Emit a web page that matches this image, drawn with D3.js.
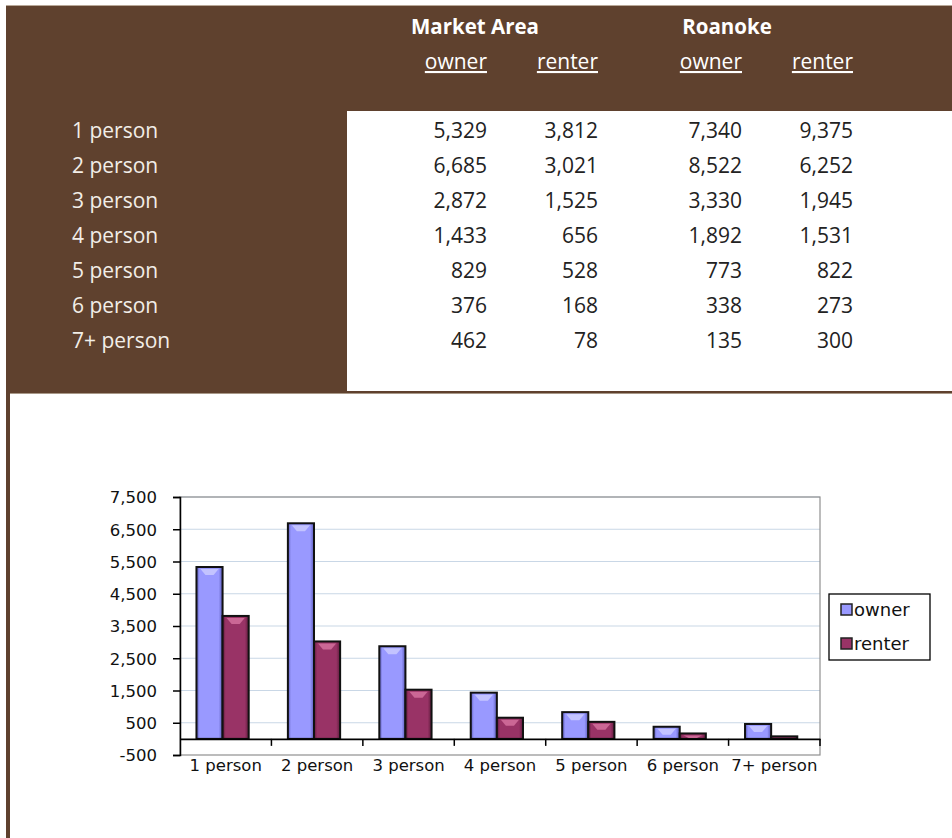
<!DOCTYPE html>
<html><head><meta charset="utf-8">
<script src="https://cdn.jsdelivr.net/npm/d3@7"></script>
<style>html,body{margin:0;padding:0;background:#fff;} svg{display:block;}</style>
</head><body>
<script>
// ---- data ----
const categories = ["1 person","2 person","3 person","4 person","5 person","6 person","7+ person"];
const series = ["owner","renter"];
const marketOwner  = [5329, 6685, 2872, 1433, 829, 376, 462];
const marketRenter = [3812, 3021, 1525, 656, 528, 168, 78];
const roanokeOwner  = [7340, 8522, 3330, 1892, 773, 338, 135];
const roanokeRenter = [9375, 6252, 1945, 1531, 822, 273, 300];
const groupHeaders = ["Market Area","Roanoke"];
const yTicks = [-500, 500, 1500, 2500, 3500, 4500, 5500, 6500, 7500];

const W = 952, H = 838;
const brown = "#5f412e";
const svg = d3.select("body").append("svg").attr("width", W).attr("height", H);
const loc = d3.formatLocale({decimal:".", thousands:",", grouping:[3], currency:["$",""], minus:"-"});
const fmt = loc.format(",");

// ---- table panel ----
svg.append("rect").attr("x",0).attr("y",0).attr("width",W).attr("height",H).attr("fill","#fff");
svg.append("rect").attr("x",6).attr("y",6).attr("width",W-6).attr("height",387).attr("fill",brown);
svg.append("line").attr("x1",6).attr("x2",W).attr("y1",5.5).attr("y2",5.5).attr("stroke","#b8a898").attr("stroke-width",1);
svg.append("rect").attr("x",6).attr("y",6).attr("width",4).attr("height",H-6).attr("fill",brown);
svg.append("rect").attr("x",347).attr("y",111).attr("width",W-347).attr("height",280).attr("fill","#fff");
svg.append("line").attr("x1",10).attr("x2",W).attr("y1",393.5).attr("y2",393.5).attr("stroke","#a89888").attr("stroke-width",1);

const tf = "'Open Sans', Lato, sans-serif";
const colRight = [487, 598, 742, 853];
const headCenters = [475, 727];
svg.selectAll("text.gh").data(groupHeaders).join("text").attr("class","gh")
  .attr("x",(d,i)=>headCenters[i]).attr("y",34).attr("text-anchor","middle")
  .attr("font-family",tf).attr("font-weight","bold").attr("font-size",20.5).attr("fill","#fff").text(d=>d);
const subHeads = ["owner","renter","owner","renter"];
svg.selectAll("text.sh").data(subHeads).join("text").attr("class","sh")
  .attr("x",(d,i)=>colRight[i]).attr("y",69).attr("text-anchor","end")
  .attr("font-family",tf).attr("font-size",21).attr("fill","#fff")
  .attr("text-decoration","underline").text(d=>d);

const rowY = i => 138 + i*35;
svg.selectAll("text.rl").data(categories).join("text").attr("class","rl")
  .attr("x",72).attr("y",(d,i)=>rowY(i)).attr("font-family",tf).attr("font-size",21)
  .attr("fill","#f2eee8").text(d=>d);
const cols = [marketOwner, marketRenter, roanokeOwner, roanokeRenter];
cols.forEach((col,ci)=>{
  svg.selectAll("text.c"+ci).data(col).join("text").attr("class","c"+ci)
    .attr("x",colRight[ci]).attr("y",(d,i)=>rowY(i)).attr("text-anchor","end")
    .attr("font-family",tf).attr("font-size",21).attr("fill","#222").text(d=>fmt(d));
});

// ---- chart ----
const cf = "'DejaVu Sans', Verdana, sans-serif";
const x0 = 180, x1 = 820, yTop = 497, yBot = 755;
const y = d3.scaleLinear().domain([-500, 7500]).range([yBot, yTop]);
const x = d3.scaleBand().domain(categories).range([x0, x1]).padding(0);
const xs = d3.scaleBand().domain(series).range([0, x.bandwidth()]).paddingInner(0).paddingOuter(0.75).align(0.42);
const color = {owner:"#9999ff", renter:"#993366"};
const dark = {owner:"#5a5ab8", renter:"#5e1c3c"};
const light = {owner:"#c8c8ff", renter:"#d06d9a"};

const defs = svg.append("defs");
series.forEach(s=>{
  const g = defs.append("linearGradient").attr("id","g_"+s).attr("x1","0").attr("x2","1").attr("y1","0").attr("y2","0");
  g.append("stop").attr("offset","0").attr("stop-color",dark[s]);
  g.append("stop").attr("offset","0.12").attr("stop-color",color[s]);
  g.append("stop").attr("offset","0.85").attr("stop-color",color[s]);
  g.append("stop").attr("offset","1").attr("stop-color",dark[s]);
});

// gridlines
svg.append("g").selectAll("line").data(yTicks.filter(t=>t>-500)).join("line")
  .attr("x1",x0).attr("x2",x1).attr("y1",d=>y(d)).attr("y2",d=>y(d))
  .attr("stroke","#c9d7e6").attr("stroke-width",1.2);
// plot border
svg.append("rect").attr("x",x0).attr("y",yTop).attr("width",x1-x0).attr("height",yBot-yTop)
  .attr("fill","none").attr("stroke","#909090").attr("stroke-width",1.2);

// bars
const rows = categories.map((c,i)=>({cat:c, owner:marketOwner[i], renter:marketRenter[i]}));
const bars = svg.append("g");
rows.forEach(r=>{
  series.forEach(s=>{
    const bx = x(r.cat)+xs(s), bw = xs.bandwidth();
    const top = y(r[s]), base = y(0);
    bars.append("rect").attr("x",bx).attr("y",top).attr("width",bw).attr("height",base-top)
      .attr("fill","url(#g_"+s+")").attr("stroke","#111").attr("stroke-width",2);
    const h = Math.min(6, (base-top)-3);
    if (h > 1) {
      bars.append("path")
        .attr("d",`M${bx+4},${top+2}L${bx+bw-4},${top+2}L${bx+bw-9},${top+2+h}L${bx+9},${top+2+h}Z`)
        .attr("fill",light[s]).attr("opacity",0.9);
    }
  });
});

// y axis
const yAxis = d3.axisLeft(y).tickValues(yTicks).tickSize(7).tickFormat(fmt);
const ya = svg.append("g").attr("transform",`translate(${x0},0)`).call(yAxis);
ya.select(".domain").attr("stroke","#000").attr("stroke-width",1.5);
ya.selectAll(".tick line").attr("stroke","#000").attr("stroke-width",1.5);
ya.selectAll(".tick text").attr("font-family",cf).attr("font-size",16.5).attr("fill","#111").attr("x",-23).attr("dy","0.36em");

// x axis at zero
const xAxis = d3.axisBottom(x).tickSize(0).tickSizeOuter(0);
const xa = svg.append("g").attr("transform",`translate(0,${y(0)})`).call(xAxis);
xa.select(".domain").attr("stroke","#000").attr("stroke-width",1.6);
xa.selectAll(".tick text").attr("font-family",cf).attr("font-size",16.5).attr("fill","#111")
  .attr("y", yBot - y(0) + 4).attr("dy","0.71em");
// category ticks at band boundaries
const bounds = categories.slice(1).map(c=>x(c)).concat([x1]);
xa.selectAll("line.bt").data(bounds).join("line").attr("class","bt")
  .attr("x1",d=>d).attr("x2",d=>d).attr("y1",0).attr("y2",7).attr("stroke","#000").attr("stroke-width",1.5);

// legend
const lg = svg.append("g").attr("transform","translate(829,594)");
lg.append("rect").attr("width",101).attr("height",66).attr("fill","#fff").attr("stroke","#000").attr("stroke-width",1.3);
series.forEach((s,i)=>{
  const gy = 16 + i*34;
  lg.append("rect").attr("x",12).attr("y",gy-6).attr("width",11).attr("height",11)
    .attr("fill",color[s]).attr("stroke","#222").attr("stroke-width",1.5);
  lg.append("text").attr("x",25).attr("y",gy).attr("dy","0.36em").attr("font-family",cf)
    .attr("font-size",18).attr("fill","#111").text(s);
});
</script>
</body></html>
